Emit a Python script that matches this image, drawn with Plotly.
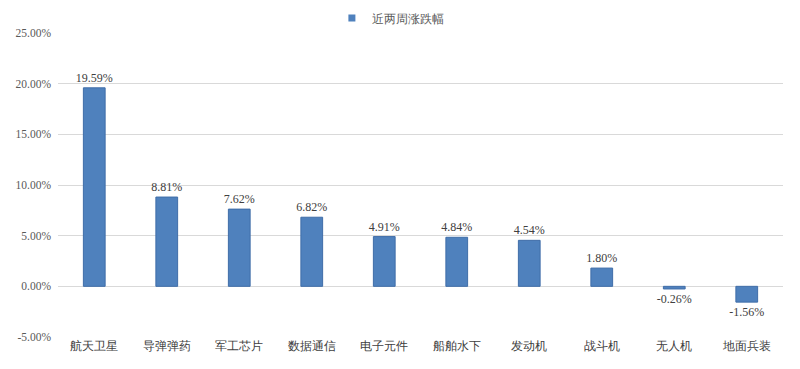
import plotly.graph_objects as go

categories = ["航天卫星", "导弹弹药", "军工芯片", "数据通信", "电子元件", "船舶水下", "发动机", "战斗机", "无人机", "地面兵装"]
values = [19.59, 8.81, 7.62, 6.82, 4.91, 4.84, 4.54, 1.80, -0.26, -1.56]
series_name = "近两周涨跌幅"
tick_vals = [-5, 0, 5, 10, 15, 20, 25]
tick_text = ["-5.00%", "0.00%", "5.00%", "10.00%", "15.00%", "20.00%", "25.00%"]

font_family = "Liberation Serif"
bar_color = "#4F81BD"

fig = go.Figure()
fig.add_trace(go.Bar(
    x=categories,
    y=values,
    name=series_name,
    width=0.3,
    marker=dict(color=bar_color, line=dict(color="#3F6DA8", width=1)),
    text=[f"{v:.2f}%" for v in values],
    textposition="outside",
    constraintext="none",
    textfont=dict(family=font_family, size=12, color="#404040"),
    cliponaxis=False,
    showlegend=False,
))
# legend entry with a small square marker
fig.add_trace(go.Scatter(
    x=[None], y=[None], mode="markers", name=series_name,
    marker=dict(symbol="square", size=7, color=bar_color),
    showlegend=True,
))

fig.update_layout(
    width=800, height=369,
    margin=dict(l=50, r=25, t=25, b=40, autoexpand=False),
    paper_bgcolor="white",
    plot_bgcolor="white",
    font=dict(family=font_family, size=12, color="#595959"),
    showlegend=True,
    legend=dict(orientation="h", x=0.478, xanchor="center", xref="container",
                y=0.973, yanchor="middle", yref="container",
                font=dict(family=font_family, size=12, color="#595959"), bgcolor="rgba(0,0,0,0)",
                itemwidth=30),
    shapes=[dict(type="line", xref="paper", yref="paper", x0=1.02, x1=1.02, y0=-0.2, y1=1.1,
                 layer="above", line=dict(color="#333333", width=1.5))],
)
fig.update_xaxes(showgrid=False, showline=False, ticks="",
                 tickfont=dict(family=font_family, size=12, color="#404040"))
fig.update_yaxes(range=[-5, 25], tickvals=tick_vals, ticktext=tick_text, showgrid=True,
                 gridcolor="#D9D9D9", gridwidth=1, zeroline=False, showline=False,
                 tickfont=dict(family=font_family, size=11.5, color="#595959"), ticks="",
                 ticklabelstandoff=6)

fig.write_html("out.html")
